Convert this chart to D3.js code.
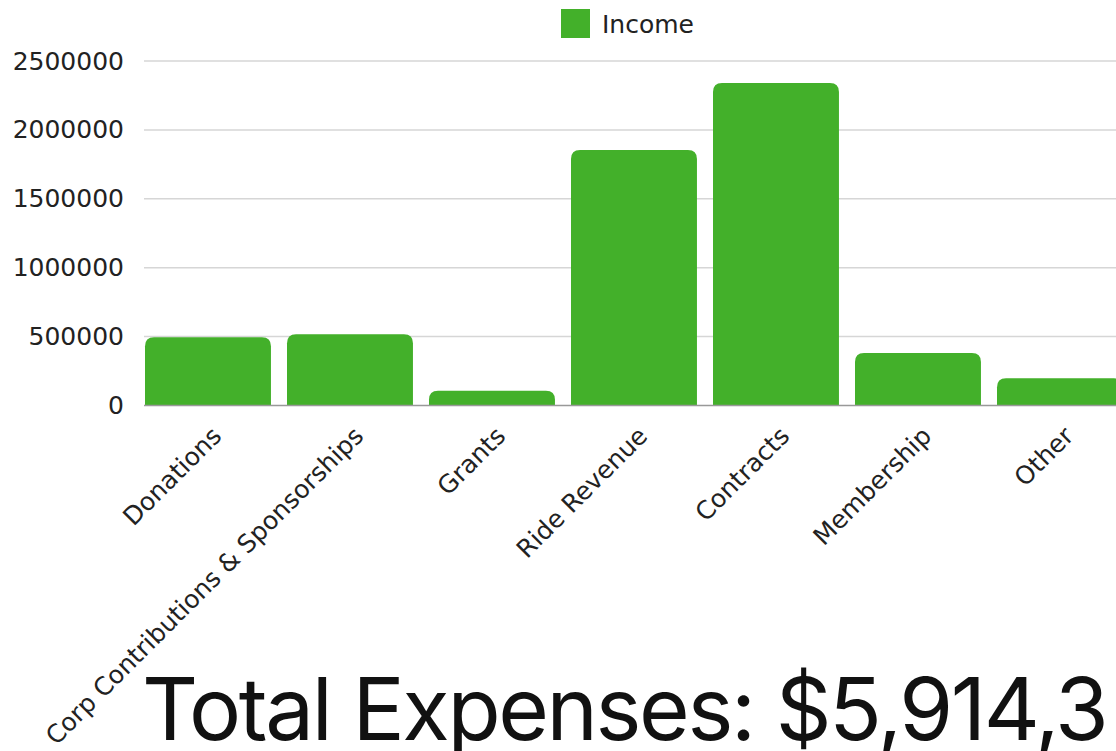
<!DOCTYPE html>
<html>
<head>
<meta charset="utf-8">
<script src="https://cdn.jsdelivr.net/npm/d3@7"></script>
<style>
    body { margin: 0; background: #fff; overflow: hidden; }
    svg { display: block; }
    .tick-label { font-family: "DejaVu Sans", sans-serif; font-size: 25px; fill: #222; }
</style>
</head>
<body>
<div id="chart"></div>
<script>
// Chart data
const categories = ['Donations', 'Corp Contributions & Sponsorships', 'Grants', 'Ride Revenue', 'Contracts', 'Membership', 'Other'];
const incomeValues = [495000, 517000, 107000, 1854000, 2340000, 381000, 197000];
const yTicks = [0, 500000, 1000000, 1500000, 2000000, 2500000];
const seriesName = 'Income';
const totalLabel = 'Total Expenses: $5,914,3';

const width = 1116;
const height = 751;
const margin = {top: 61, left: 144, baseline: 405.5};
const barColor = '#43b02a';

const svg = d3.select('#chart')
    .append('svg')
    .attr('width', width)
    .attr('height', height);

// Scales
const x = d3.scaleBand()
    .domain(categories)
    .range([margin.left + 1, margin.left + 1 + 142 * (categories.length - 0.113)])
    .paddingInner(0.113)
    .paddingOuter(0);

const y = d3.scaleLinear()
    .domain([0, 2500000])
    .range([margin.baseline, margin.top]);

// Gridlines + y labels
const yAxis = svg.append('g')
    .attr('transform', `translate(${margin.left},0)`)
    .call(d3.axisLeft(y).tickValues(yTicks).tickSize(0).tickPadding(20).tickFormat(d3.format('d')));
yAxis.select('.domain').remove();
yAxis.selectAll('text')
    .attr('class', 'tick-label')
    .attr('font-family', null)
    .attr('font-size', null);

svg.append('g')
    .selectAll('line')
    .data(yTicks.filter(d => d > 0))
    .enter().append('line')
    .attr('x1', margin.left)
    .attr('x2', width)
    .attr('y1', d => y(d))
    .attr('y2', d => y(d))
    .attr('stroke', '#d6d6d6')
    .attr('stroke-width', 1.5);

// Bars with rounded tops
const r = 9;
svg.append('g')
    .selectAll('path')
    .data(categories.map((c, i) => ({name: c, value: incomeValues[i]})))
    .enter().append('path')
    .attr('fill', barColor)
    .attr('d', d => {
        const x0 = x(d.name), x1 = x0 + x.bandwidth();
        const y0 = y(0), y1 = y(d.value);
        const rr = Math.min(r, (y0 - y1));
        return `M${x0},${y0}V${y1 + rr}Q${x0},${y1} ${x0 + rr},${y1}H${x1 - rr}Q${x1},${y1} ${x1},${y1 + rr}V${y0}Z`;
    });

// Baseline
svg.append('line')
    .attr('x1', margin.left)
    .attr('x2', width)
    .attr('y1', y(0))
    .attr('y2', y(0))
    .attr('stroke', '#999')
    .attr('stroke-width', 1.5);

// Category labels (rotated)
svg.append('g')
    .selectAll('text')
    .data(categories)
    .enter().append('text')
    .attr('class', 'tick-label')
    .attr('text-anchor', 'end')
    .attr('transform', d => `translate(${x(d) + x.bandwidth() / 2 + 15},${y(0) + 32}) rotate(-45)`)
    .text(d => d);

// Legend
const legend = svg.append('g').attr('transform', 'translate(561,9)');
legend.append('rect')
    .attr('width', 29)
    .attr('height', 29)
    .attr('fill', barColor);
legend.append('text')
    .attr('class', 'tick-label')
    .attr('x', 41)
    .attr('y', 15)
    .attr('dy', '0.35em')
    .text(seriesName);

// Total text
svg.append('text')
    .attr('x', 142)
    .attr('y', 740)
    .attr('font-family', 'Inter, sans-serif')
    .attr('font-size', 87)
    .attr('letter-spacing', -2.4)
    .attr('fill', '#111')
    .text(totalLabel);
</script>
</body>
</html>
